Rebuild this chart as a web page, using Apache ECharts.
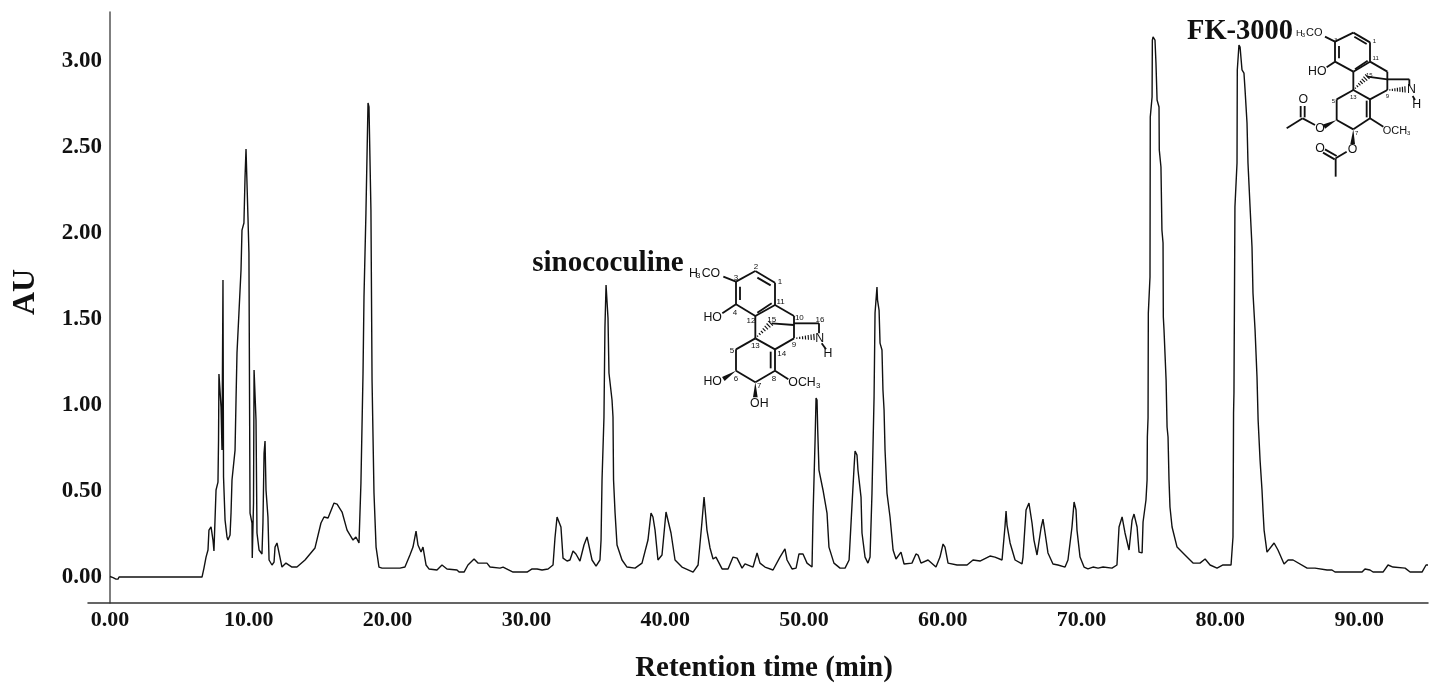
<!DOCTYPE html>
<html>
<head>
<meta charset="utf-8">
<title>Retention chromatogram</title>
<script src="https://cdn.jsdelivr.net/npm/echarts@6/dist/echarts.min.js"></script>
<style>
  html, body { margin: 0; padding: 0; background: #fff; }
  #chart { width: 1441px; height: 696px; }
</style>
</head>
<body>
<div id="chart"></div>
<script>
// values: minutes and AU
const retentionTime = [
  0.00,0.22,0.43,0.58,0.65,6.63,6.77,6.92,7.06,7.13,7.28,7.42,7.49,7.64,7.78,7.82,7.85,8.00,8.07,8.14,8.18,8.29,8.43,8.50,8.65,8.72,8.79,
  9.01,9.08,9.15,9.29,9.44,9.51,9.65,9.73,9.80,9.87,9.94,10.01,10.09,10.23,10.25,10.30,10.34,10.38,10.52,10.59,10.74,10.95,11.02,11.10,11.17,11.24,11.38,11.46,11.67,11.82,11.89,
  12.03,12.18,12.39,12.68,13.11,13.47,14.05,14.77,15.20,15.42,15.71,16.14,16.36,16.72,17.08,17.51,17.72,17.94,18.08,18.23,18.30,18.44,18.59,18.66,18.80,18.88,19.02,19.17,19.38,19.60,
  20.17,20.89,21.25,21.61,21.83,22.05,22.19,22.41,22.55,22.77,22.98,23.56,23.92,24.28,25.00,25.15,25.51,25.79,26.23,26.51,27.16,27.38,28.10,28.32,29.04,
  30.05,30.41,30.77,30.91,31.13,31.56,31.92,32.06,32.21,32.35,32.49,32.64,32.93,33.14,33.36,33.57,33.86,34.15,34.37,34.51,34.73,35.02,35.30,35.38,35.45,35.59,35.66,35.74,35.81,35.88,35.95,
  36.17,36.24,36.28,36.39,36.53,36.89,37.25,37.83,38.33,38.76,38.98,39.12,39.27,39.48,39.77,40.06,40.20,40.42,40.71,41.21,42.01,42.37,42.65,42.80,42.87,43.01,43.23,43.45,43.66,44.10,44.53,44.89,
  45.18,45.54,45.75,46.33,46.62,46.83,47.19,47.77,48.27,48.63,48.78,49.14,49.43,49.64,49.93,50.22,50.58,50.65,50.80,50.87,50.94,50.99,51.08,51.37,51.66,51.80,52.16,52.60,52.96,
  53.25,53.46,53.61,53.68,53.82,53.89,54.11,54.18,54.40,54.61,54.76,54.90,55.05,55.12,55.26,55.30,55.41,55.48,55.62,55.69,55.77,55.84,55.98,56.20,56.42,56.63,56.99,57.21,57.78,58.07,58.22,58.43,58.94,59.51,59.80,
  60.02,60.16,60.38,61.03,61.75,62.18,62.68,63.40,63.76,64.27,64.48,64.56,64.63,64.85,65.21,65.71,65.78,66.00,66.21,66.43,66.57,66.79,67.08,67.22,67.37,67.58,67.94,68.30,68.81,
  69.02,69.17,69.31,69.46,69.60,69.67,69.89,70.18,70.46,70.82,71.19,71.55,72.19,72.55,72.70,72.92,73.13,73.42,73.64,73.78,74.00,74.14,74.36,74.43,74.64,
  74.72,74.74,74.79,74.81,74.93,74.95,75.08,75.10,75.15,75.29,75.36,75.44,75.58,75.60,75.72,75.79,75.87,75.89,75.94,76.09,76.16,76.23,76.30,76.37,76.52,76.88,77.45,78.03,78.53,78.90,79.26,79.76,80.19,80.77,
  80.91,80.93,80.95,80.98,81.05,81.20,81.22,81.34,81.42,81.56,81.70,81.78,81.92,81.99,82.14,82.28,82.35,82.50,82.64,82.72,82.86,83.00,83.07,83.15,83.36,83.87,84.15,84.59,84.88,85.24,
  86.25,86.82,87.69,88.04,88.26,90.21,90.42,90.78,91.00,91.72,92.08,92.44,93.31,93.67,94.53,94.82,94.96
];
const absorbance = [
  0.003,-0.003,-0.012,-0.012,0,0,0.052,0.116,0.157,0.273,0.291,0.215,0.151,0.506,0.552,0.797,1.180,0.988,0.738,1.727,0.581,0.331,0.233,0.215,0.244,0.372,0.564,
  0.738,1.029,1.302,1.535,1.785,2.017,2.058,2.326,2.488,2.483,2.093,1.884,0.372,0.314,0.110,0.110,0.430,1.203,0.913,0.256,0.157,0.134,0.314,0.721,0.791,0.506,0.349,0.099,0.070,0.087,0.174,
  0.198,0.140,0.058,0.081,0.058,0.058,0.099,0.169,0.314,0.349,0.343,0.430,0.424,0.378,0.273,0.215,0.233,0.198,0.547,1.186,1.628,2.116,2.756,2.733,2.134,1.145,0.488,0.174,0.058,0.052,
  0.052,0.052,0.058,0.128,0.174,0.267,0.186,0.145,0.174,0.070,0.047,0.041,0.070,0.047,0.041,0.029,0.029,0.070,0.105,0.081,0.081,0.058,0.052,0.058,0.029,
  0.029,0.047,0.047,0.052,0.041,0.047,0.070,0.227,0.349,0.355,0.291,0.110,0.093,0.099,0.151,0.134,0.093,0.186,0.233,0.233,0.099,0.064,0.099,0.215,0.564,0.930,1.453,1.698,1.698,1.506,1.186,
  1.029,0.930,0.564,0.372,0.186,0.099,0.058,0.052,0.081,0.215,0.372,0.349,0.273,0.099,0.128,0.378,0.378,0.256,0.099,0.058,0.029,0.070,0.320,0.465,0.459,0.273,0.169,0.105,0.116,0.047,0.047,0.116,
  0.110,0.052,0.076,0.058,0.140,0.081,0.058,0.041,0.116,0.163,0.099,0.047,0.052,0.134,0.134,0.081,0.058,0.349,0.797,1.041,1.029,0.855,0.622,0.506,0.372,0.174,0.081,0.052,0.052,
  0.099,0.419,0.640,0.733,0.709,0.622,0.465,0.256,0.116,0.081,0.116,0.488,1.047,1.535,1.686,1.610,1.552,1.360,1.320,1.087,0.971,0.738,0.488,0.349,0.157,0.105,0.145,0.076,0.081,0.134,0.128,0.081,0.099,0.058,0.116,
  0.192,0.174,0.081,0.070,0.070,0.099,0.093,0.122,0.116,0.099,0.291,0.384,0.302,0.198,0.099,0.076,0.116,0.390,0.430,0.314,0.215,0.128,0.285,0.337,0.256,0.140,0.076,0.070,0.058,
  0.099,0.198,0.291,0.436,0.390,0.273,0.116,0.058,0.047,0.058,0.052,0.058,0.052,0.070,0.291,0.349,0.256,0.157,0.331,0.366,0.291,0.145,0.140,0.320,0.448,
  0.564,0.814,0.924,1.535,1.744,2.674,2.791,3.122,3.140,3.122,2.988,2.773,2.733,2.483,2.384,2.017,1.942,1.512,1.436,1.145,0.872,0.814,0.564,0.407,0.291,0.174,0.128,0.081,0.081,0.105,0.070,0.052,0.070,0.070,
  0.233,0.564,0.953,1.070,2.151,2.407,2.948,3.093,3.081,2.948,2.930,2.831,2.640,2.407,2.151,1.919,1.651,1.436,1.163,0.913,0.680,0.506,0.390,0.273,0.145,0.198,0.157,0.076,0.099,0.099,
  0.052,0.052,0.041,0.041,0.029,0.029,0.047,0.041,0.029,0.029,0.070,0.058,0.052,0.029,0.029,0.070,0.070
];
const xTicks = [0, 10, 20, 30, 40, 50, 60, 70, 80, 90];
const yTicks = [0, 0.5, 1, 1.5, 2, 2.5, 3];

const chart = echarts.init(document.getElementById('chart'), null, { renderer: 'canvas' });

const serif = '"Liberation Serif", "Times New Roman", serif';
const sans = '"Liberation Sans", Arial, sans-serif';
const ink = '#111';

// helpers for the two structure drawings, in 3x crop units (group is scaled by 1/3)
function bond(x1, y1, x2, y2, w) {
  return { type: 'line', silent: true, shape: { x1, y1, x2, y2 }, style: { stroke: '#111', lineWidth: w || 5.5 } };
}
function wedge(x1, y1, x2, y2) {
  const dx = x2 - x1, dy = y2 - y1, l = Math.hypot(dx, dy), nx = -dy / l * 7, ny = dx / l * 7;
  return { type: 'polygon', silent: true, shape: { points: [[x1, y1], [x2 + nx, y2 + ny], [x2 - nx, y2 - ny]] }, style: { fill: '#111' } };
}
function hash(x1, y1, x2, y2) {
  const out = [], dx = x2 - x1, dy = y2 - y1, l = Math.hypot(dx, dy), n = 7;
  for (let i = 1; i <= n; i++) {
    const px = x1 + dx * i / n, py = y1 + dy * i / n, h = 1 + i * 1.2;
    out.push(bond(px + dy / l * h, py - dx / l * h, px - dy / l * h, py + dx / l * h, 3.5));
  }
  return out;
}
function atom(x, y, text, size, align) {
  return { type: 'text', silent: true, z: 5, style: { x, y, text, fill: '#111', font: (size || 37) + 'px ' + sans, textAlign: align || 'center', textVerticalAlign: 'middle' } };
}
function label(x, y, text, size, rotation) {
  return { type: 'text', silent: true, x, y, rotation: rotation || 0, style: { x: 0, y: 0, text, fill: ink, font: 'bold ' + size + 'px ' + serif, textAlign: 'center', textVerticalAlign: 'middle' } };
}

const sinococuline = {
  type: 'group', x: 520, y: 240, scaleX: 1 / 3, scaleY: 1 / 3,
  children: [
    bond(648,125,706,93), bond(706,93,765,128), bond(765,128,765,195), bond(765,195,706,228), bond(706,228,648,193), bond(648,193,648,125),
    bond(660,140,660,180), bond(712,113,752,136), bond(712,218,755,190),
    bond(610,110,648,125), bond(607,220,648,193),
    bond(706,228,706,295), bond(706,295,648,328), bond(648,328,648,392), bond(648,392,706,427), bond(706,427,765,392), bond(765,392,765,328), bond(765,328,706,295),
    bond(752,335,752,385),
    bond(765,195,822,228), bond(822,228,822,295), bond(822,295,765,328),
    bond(755,250,822,255), bond(822,250,897,250), bond(897,250,897,280), bond(905,310,918,328),
    ...hash(706,295,752,250), ...hash(822,295,882,291),
    wedge(648,392,610,417), wedge(706,427,706,472),
    bond(765,392,805,418),
    atom(507,100,'H',37,'left'), atom(535,108,'3',24), atom(545,100,'CO',37,'left'),
    atom(578,232,'HO'), atom(578,425,'HO'), atom(718,492,'OH'),
    atom(805,428,'OCH',37,'left'), atom(895,437,'3',24),
    atom(899,296,'N'), atom(924,342,'H'),
    atom(648,112,'3',24), atom(708,80,'2',24), atom(780,125,'1',24), atom(782,186,'11',24), atom(693,243,'12',24), atom(645,217,'4',24),
    atom(755,240,'15',24), atom(838,232,'10',24), atom(900,240,'16',24), atom(706,318,'13',24), atom(822,315,'9',24), atom(785,342,'14',24),
    atom(636,333,'5',24), atom(648,417,'6',24), atom(718,437,'7',24), atom(762,417,'8',24)
  ]
};

const fk3000 = {
  type: 'group', x: 1170, y: 10, scaleX: 1 / 3, scaleY: 1 / 3,
  children: [
    bond(495,95,550,68), bond(550,68,600,97), bond(600,97,600,155), bond(600,155,550,185), bond(550,185,495,155), bond(495,155,495,95),
    bond(507,108,507,145), bond(553,80,590,102), bond(555,178,593,152),
    bond(465,80,495,95), bond(470,172,495,155),
    bond(550,185,550,240), bond(550,240,500,268), bond(500,268,500,330), bond(500,330,550,358), bond(550,358,600,325), bond(600,325,600,268), bond(600,268,550,240),
    bond(590,272,590,322),
    bond(600,155,652,185), bond(652,185,652,240), bond(652,240,600,268),
    bond(592,200,652,208), bond(652,208,718,208), bond(718,208,718,228), bond(728,258,735,270),
    ...hash(550,240,592,200), ...hash(652,240,705,238),
    wedge(500,330,462,350), wedge(550,358,548,402),
    bond(600,325,640,350),
    bond(435,345,398,325), bond(398,325,350,355), bond(392,322,392,288), bond(404,322,404,288),
    bond(530,425,497,445), bond(497,445,497,500), bond(500,438,465,418), bond(494,448,459,428),
    atom(378,70,'H',28,'left'), atom(400,76,'3',18), atom(408,70,'CO',33,'left'),
    atom(442,185,'HO'), atom(450,357,'O'), atom(400,270,'O'), atom(548,418,'O'), atom(450,417,'O'),
    atom(638,362,'OCH',33,'left'), atom(716,369,'3',18),
    atom(724,240,'N'), atom(740,283,'H'),
    atom(497,92,'3',16), atom(613,95,'1',18), atom(617,145,'11',18), atom(598,195,'15',18), atom(550,262,'13',18),
    atom(652,260,'9',18), atom(490,275,'5',18), atom(560,370,'7',18)
  ]
};

const options = {
  animation: false,
  backgroundColor: '#fff',
  grid: { left: 88, right: 13, top: 12, bottom: 93, containLabel: false },
  xAxis: {
    type: 'value',
    min: -1.585,
    max: 94.96,
    splitLine: { show: false },
    axisTick: { show: false },
    axisLine: { onZero: false, lineStyle: { color: '#333', width: 1.5 } },
    axisLabel: {
      customValues: xTicks,
      margin: 6,
      color: ink,
      fontFamily: serif,
      fontWeight: 'bold',
      fontSize: 22,
      formatter: (v) => v.toFixed(2)
    }
  },
  yAxis: {
    type: 'value',
    min: -0.151,
    max: 3.285,
    splitLine: { show: false },
    axisTick: { show: false },
    axisLine: { show: true, onZero: true, lineStyle: { color: '#555', width: 1.5 } },
    axisLabel: {
      customValues: yTicks,
      margin: -14,
      padding: [3, 0, 0, 0],
      color: ink,
      fontFamily: serif,
      fontWeight: 'bold',
      fontSize: 23,
      formatter: (v) => v.toFixed(2)
    }
  },
  series: [
    {
      type: 'line',
      data: retentionTime.map((t, i) => [t, absorbance[i]]),
      symbol: 'none',
      smooth: false,
      sampling: 'none',
      lineStyle: { color: '#111', width: 1.4 }
    }
  ],
  graphic: [
    label(764, 669, 'Retention time (min)', 29),
    label(26, 292, 'AU', 32, Math.PI / 2),
    label(608, 264, 'sinococuline', 29),
    label(1240, 32, 'FK-3000', 28.5),
    sinococuline,
    fk3000
  ]
};

chart.setOption(options);
</script>
</body>
</html>
